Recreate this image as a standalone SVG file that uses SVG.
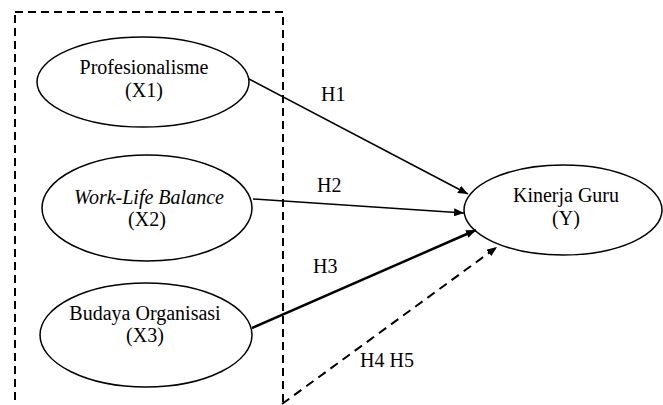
<svg xmlns="http://www.w3.org/2000/svg" width="663" height="405" viewBox="0 0 663 405">
<style>
.n{fill:#fff;stroke:#000;stroke-width:1.5}
.t{font-family:"Liberation Serif","Times New Roman",serif;font-size:20px;fill:#000;text-anchor:middle}
.l{font-family:"Liberation Serif","Times New Roman",serif;font-size:20px;fill:#000}
.c{stroke:#000;fill:none}
</style>
<defs>
<marker id="ah" viewBox="0 0 10 8" refX="10" refY="4" markerWidth="10" markerHeight="8" markerUnits="userSpaceOnUse" orient="auto">
<path d="M0,0 L10,4 L0,8 z" fill="#000"/>
</marker>
</defs>
<rect id="box" x="15" y="12" width="268" height="420" fill="none" stroke="#000" stroke-width="2" stroke-dasharray="8,5"/>
<g id="x1"><ellipse class="n" cx="143" cy="82" rx="106" ry="45"/><text class="t" x="144" y="74">Profesionalisme</text><text class="t" x="144" y="97">(X1)</text></g>
<g id="x2"><ellipse class="n" cx="147" cy="208" rx="105" ry="53"/><text class="t" x="149" y="204" font-style="italic">Work-Life Balance</text><text class="t" x="147" y="226">(X2)</text></g>
<g id="x3"><ellipse class="n" cx="146" cy="335" rx="106" ry="52"/><text class="t" x="145" y="320">Budaya Organisasi</text><text class="t" x="145" y="342">(X3)</text></g>
<g id="y"><ellipse class="n" cx="563" cy="210" rx="99" ry="45"/><text class="t" x="566" y="202">Kinerja Guru</text><text class="t" x="566" y="225">(Y)</text></g>
<g id="connectors">
<line class="c" x1="249" y1="79" x2="468" y2="194" stroke-width="1.5" marker-end="url(#ah)"/>
<line class="c" x1="253" y1="199" x2="464" y2="213" stroke-width="1.5" marker-end="url(#ah)"/>
<line class="c" x1="252" y1="328" x2="476" y2="230" stroke-width="2.5" marker-end="url(#ah)"/>
<line class="c" x1="282" y1="404" x2="497" y2="247" stroke-width="2" stroke-dasharray="9,6" marker-end="url(#ah)"/>
<text class="l" x="321" y="101">H1</text>
<text class="l" x="317" y="192">H2</text>
<text class="l" x="313" y="273">H3</text>
<text class="l" x="360" y="367">H4 H5</text>
</g>
</svg>
